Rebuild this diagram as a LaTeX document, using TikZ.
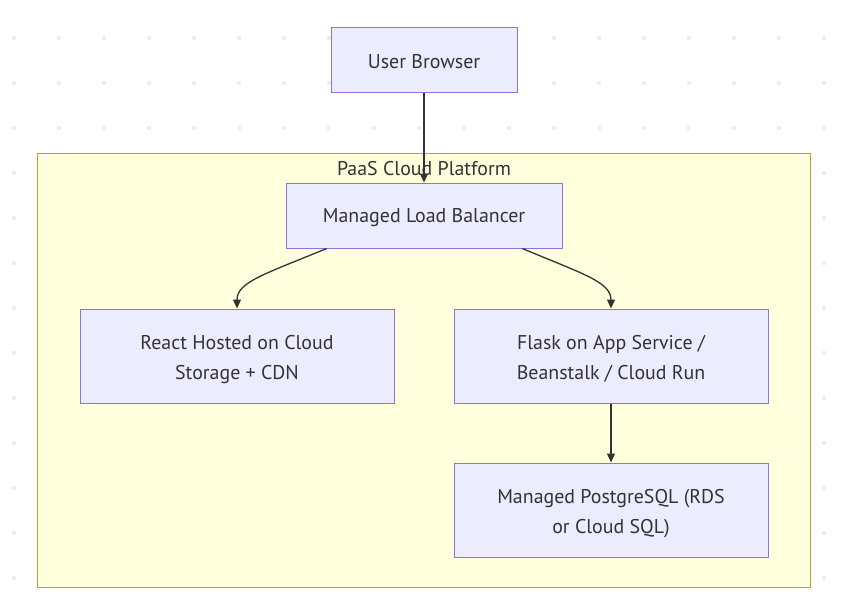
\documentclass[tikz,border=0pt]{standalone}
\usepackage{fontspec}
\setmainfont{PT Sans}
\usetikzlibrary{calc,arrows.meta}
\definecolor{nodefill}{HTML}{ECECFF}
\definecolor{nodeline}{HTML}{9370DB}
\definecolor{clfill}{HTML}{FFFFDE}
\definecolor{clline}{HTML}{AAAA33}
\definecolor{ink}{HTML}{333333}
\definecolor{dotc}{HTML}{EEEEEE}
\newcommand\mydown[1]{\raisebox{0pt}[\dimexpr\height+5pt\relax][\depth]{#1}}
\newcommand\mytwolines[2]{\mydown{\begin{tabular}{@{}c@{}}#1\\#2\end{tabular}}}
\tikzset{
  box/.style={draw=nodeline, fill=nodefill, line width=1pt, text=ink, align=center,
    font=\fontsize{19.9}{29.8}\selectfont, inner sep=0pt},
  cluster/.style={draw=clline, fill=clfill, line width=1pt, inner sep=0pt},
  title/.style={text=ink, font=\fontsize{19.9}{22}\selectfont, inner sep=0pt},
  edge/.style={draw=ink, line width=1.3pt, -{Triangle[length=9pt,width=8pt]}}
}
\begin{document}
\begin{tikzpicture}[x=1pt,y=-1pt]
\useasboundingbox (0,0) rectangle (844,606);
\fill[white] (0,0) rectangle (844,606);
\foreach \i in {0,...,18}{
  \foreach \j in {0,...,12}{
    \fill[dotc] ({14+45*\i-2},{38+45*\j-2}) rectangle ++(4,4);
  }
}
\node[cluster, minimum width=773pt, minimum height=434pt] (paas) at (423.5,370) {};
\node[title] (paastitle) at (424,169) {PaaS Cloud Platform};
\node[box, minimum width=186pt, minimum height=65pt] (ub) at (424,59.5) {\mydown{User Browser}};
\node[box, minimum width=276pt, minimum height=65pt] (lb) at (424,215.5) {\mydown{Managed Load Balancer}};
\node[box, minimum width=314pt, minimum height=94pt] (react) at (237,356) {\mytwolines{React Hosted on Cloud}{Storage + CDN}};
\node[box, minimum width=314pt, minimum height=94pt] (flask) at (611,356) {\mytwolines{Flask on App Service /}{Beanstalk / Cloud Run}};
\node[box, minimum width=314pt, minimum height=94pt] (pg) at (611,510) {\mytwolines{Managed PostgreSQL (RDS}{or Cloud SQL)}};
\draw[edge] (ub.south) -- (lb.north);
\draw[edge] ($(lb.south)!0.703!(lb.south west)$) .. controls (265,274) and (237,282) .. (react.north);
\draw[edge] ($(lb.south)!0.71!(lb.south east)$) .. controls (583,274) and (611,282) .. (flask.north);
\draw[edge] (flask.south) -- (pg.north);
\end{tikzpicture}
\end{document}
